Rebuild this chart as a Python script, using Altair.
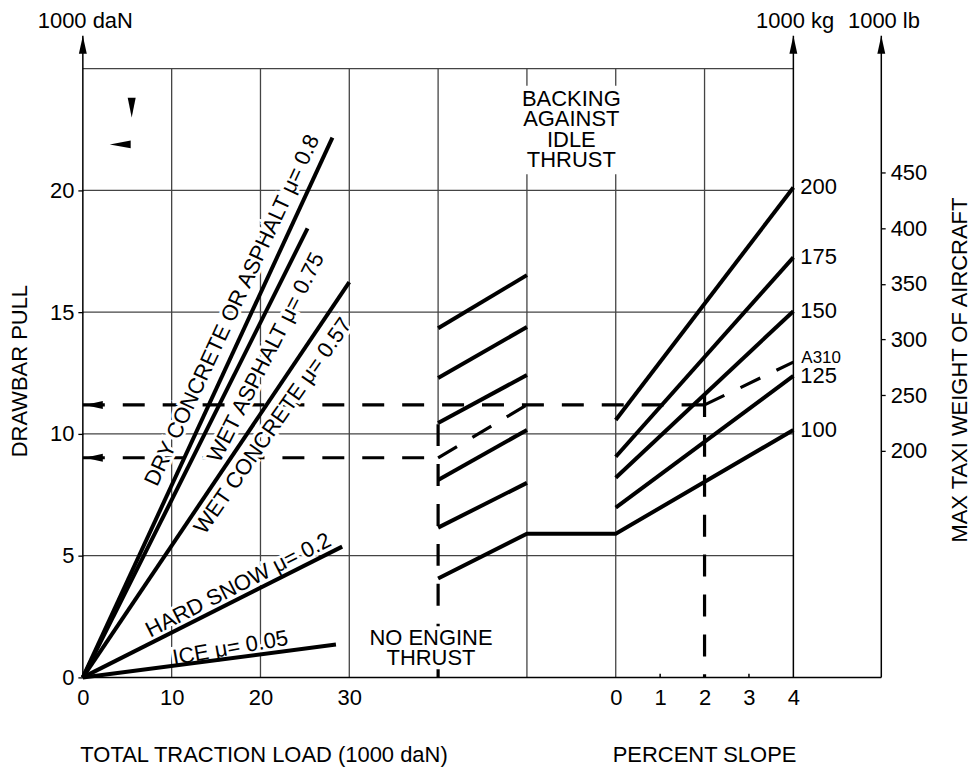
import altair as alt
import pandas as pd

FONT = "Liberation Sans"
FS = 22

# ---------------- data ----------------
# Left panel: total traction load (1000 daN) vs drawbar pull (1000 daN)
surface_labels = ["DRY CONCRETE OR ASPHALT μ= 0.8", "WET ASPHALT μ= 0.75",
                  "WET CONCRETE μ= 0.57", "HARD SNOW μ= 0.2", "ICE μ= 0.05"]
surface_end_load = [28.1, 25.3, 30.0, 29.2, 28.5]
surface_end_pull = [22.17, 18.44, 16.23, 5.37, 1.35]
surface_label_x = [16.8, 20.6, 21.4, 17.5, 16.6]
surface_label_y = [15.08, 13.14, 10.33, 3.79, 1.21]
surface_label_angle = [295, 297, 305, 333, 350]

# Middle panel (no engine thrust): pull at left / right edge of the panel
noengine_left = [14.34, 12.30, 10.45, 8.11, 6.15, 4.06]
noengine_right = [16.52, 14.39, 12.42, 10.16, 7.99, 5.90]
idle_thrust_pull = 5.90

# Right panel (percent slope 0..4): max taxi weight lines (1000 kg)
weight_labels = ["200", "175", "150", "125", "100"]
slope0_pull = [10.57, 9.06, 8.20, 6.97, 5.90]
slope4_pull = [20.12, 17.25, 15.04, 12.38, 10.16]

# Worked example (dashed)
ex_pull_noengine = 9.02
ex_pull_total = 11.19
ex_slope = 2
a310_pull_at4 = 12.95
ex_noengine_top = 10.4
ex_slope_top = 11.6

# Axis ticks
pull_ticks = [0, 5, 10, 15, 20]
grid_pull = [5, 10, 15, 20, 25]
load_ticks = [0, 10, 20, 30]
slope_ticks = [0, 1, 2, 3, 4]
lb_ticks = [200, 250, 300, 350, 400, 450]
lb_domain = [-3.4, 543.2]

# panel layout on the shared horizontal scale
PANEL_END = 80
NOENG = (40, 50)
BACK = (50, 60)


def slope_x(p):
    return 60 + 5 * p


LB_AXIS_X = 89.9
ARROW_TOP = 26.35

# ---------------- tables ----------------
rows = []
for name, x1, y1 in zip(surface_labels, surface_end_load, surface_end_pull):
    rows += [dict(s=name, o=0, x=0, y=0), dict(s=name, o=1, x=x1, y=y1)]
for i in range(len(noengine_left) - 1):
    rows += [dict(s=f"ne{i}", o=0, x=NOENG[0], y=noengine_left[i]),
             dict(s=f"ne{i}", o=1, x=NOENG[1], y=noengine_right[i])]
rows += [dict(s="100", o=0, x=NOENG[0], y=noengine_left[-1]),
         dict(s="100", o=1, x=NOENG[1], y=noengine_right[-1]),
         dict(s="100", o=2, x=BACK[1], y=idle_thrust_pull),
         dict(s="100", o=3, x=slope_x(4), y=slope4_pull[-1])]
for w, a, b in zip(weight_labels[:-1], slope0_pull[:-1], slope4_pull[:-1]):
    rows += [dict(s=w, o=0, x=slope_x(0), y=a), dict(s=w, o=1, x=slope_x(4), y=b)]
solid = pd.DataFrame(rows)

dashed = pd.DataFrame([
    dict(x=0, x2=slope_x(ex_slope), y=ex_pull_total, y2=ex_pull_total),
    dict(x=slope_x(ex_slope), x2=slope_x(4), y=ex_pull_total, y2=a310_pull_at4),
    dict(x=slope_x(ex_slope), x2=slope_x(ex_slope), y=ex_slope_top, y2=0),
    dict(x=0, x2=NOENG[0], y=ex_pull_noengine, y2=ex_pull_noengine),
    dict(x=NOENG[0], x2=NOENG[1], y=ex_pull_noengine, y2=ex_pull_total),
    dict(x=NOENG[0], x2=NOENG[0], y=ex_noengine_top, y2=0),
])

hgrid = pd.DataFrame({"y": grid_pull, "x": 0, "x2": PANEL_END})
vgrid = pd.DataFrame({"x": [10, 20, 30, 40, 50, 60, 70],
                      "y": [0, 0, 0, ex_noengine_top, 0, 0, ex_slope_top],
                      "y2": 25})
axis_lines = pd.DataFrame([
    dict(x=0, x2=0, y=0, y2=ARROW_TOP),
    dict(x=PANEL_END, x2=PANEL_END, y=0, y2=ARROW_TOP),
    dict(x=LB_AXIS_X, x2=LB_AXIS_X, y=0, y2=ARROW_TOP),
    dict(x=0, x2=LB_AXIS_X, y=0, y2=0),
    dict(x=slope_x(1), x2=slope_x(1), y=0, y2=0.15),
    dict(x=slope_x(3), x2=slope_x(3), y=0, y2=0.15),
])

up_arrows = pd.DataFrame({"x": [0, PANEL_END, LB_AXIS_X], "y": 25.98})
left_arrows = pd.DataFrame({"x": [1.24, 1.24], "y": [ex_pull_total, ex_pull_noengine]})
mark_down = pd.DataFrame({"x": [5.5], "y": [23.4]})
mark_left = pd.DataFrame({"x": [4.21], "y": [21.89]})

surface_text = pd.DataFrame({"x": surface_label_x, "y": surface_label_y,
                             "t": surface_labels, "a": surface_label_angle})
weight_text = pd.DataFrame({"x": slope_x(4), "y": slope4_pull, "t": weight_labels})
a310_text = pd.DataFrame({"x": [slope_x(4)], "y": [a310_pull_at4], "t": ["A310"]})

box_rects = pd.DataFrame([
    dict(x=BACK[0] - 0.6, x2=BACK[1] + 0.6, y=20.66, y2=24.3),
    dict(x=NOENG[0] - 1.6, x2=NOENG[0] + 1.6, y=0.33, y2=2.1),
])
# y = position of the first text line
box_text = pd.DataFrame({"x": [55, 39.2], "y": [23.77, 1.62],
                         "t": ["BACKING\nAGAINST\nIDLE\nTHRUST", "NO ENGINE\nTHRUST"]})

plain_text = pd.DataFrame({
    "x": [0.28, 80.2, 90.2, 20.4, 70],
    "y": [26.97, 26.97, 26.97, -3.2, -3.2],
    "t": ["1000 daN", "1000 kg", "1000 lb", "TOTAL TRACTION LOAD (1000 daN)", "PERCENT SLOPE"],
})
vertical_text = pd.DataFrame({"x": [-7.02, 98.8], "y": [12.58, 12.62],
                              "t": ["DRAWBAR PULL", "MAX TAXI WEIGHT OF AIRCRAFT"]})

# ---------------- scales / helpers ----------------
xs = alt.Scale(domain=[0, PANEL_END], nice=False, zero=False)
ys = alt.Scale(domain=[0, 25], nice=False, zero=False)


def X(f="x"):
    return alt.X(f"{f}:Q", scale=xs, title=None)


def Y(f="y"):
    return alt.Y(f"{f}:Q", scale=ys, title=None)


x_axis = alt.Axis(values=load_ticks + [slope_x(p) for p in slope_ticks],
                  labelExpr="datum.value <= 30 ? datum.value : (datum.value - 60) / 5",
                  domain=False, ticks=False, tickSize=0, labelPadding=10,
                  title=None, grid=False, labelFlush=False, labelOverlap=False)
y_axis = alt.Axis(values=pull_ticks, domain=False, ticks=True, tickSize=5,
                  tickColor="black", tickWidth=1.3, labelPadding=4, title=None,
                  grid=False, format="d", labelOverlap=False)

grid_h = alt.Chart(hgrid).mark_rule(color="#444", strokeWidth=1.3).encode(
    x=alt.X("x:Q", scale=xs, axis=x_axis, title=None), x2="x2:Q",
    y=alt.Y("y:Q", scale=ys, axis=y_axis, title=None))
grid_v = alt.Chart(vgrid).mark_rule(color="#444", strokeWidth=1.3).encode(
    x=X(), y=Y(), y2="y2:Q")

dash_layer = alt.Chart(dashed).mark_rule(color="black", strokeWidth=3.2,
                                         strokeDash=[22, 18]).encode(
    x=X(), x2="x2:Q", y=Y(), y2="y2:Q")

halo = alt.Chart(surface_text).mark_text(font=FONT, fontSize=FS, stroke="white",
                                         strokeWidth=6, fill="white",
                                         align="center", baseline="middle").encode(
    x=X(), y=Y(), text="t:N", angle=alt.Angle("a:Q", scale=None))

rects = alt.Chart(box_rects).mark_rect(color="white").encode(
    x=X(), x2="x2:Q", y=Y(), y2="y2:Q")

ax_lines = alt.Chart(axis_lines).mark_rule(color="black", strokeWidth=1.5).encode(
    x=X(), x2="x2:Q", y=Y(), y2="y2:Q")

lines = alt.Chart(solid).mark_line(color="black", strokeWidth=4, strokeJoin="miter").encode(
    x=X(), y=Y(), detail="s:N", order="o:Q")

arrow_up = alt.Chart(up_arrows).mark_point(
    shape="M0,-1L0.44,1L-0.44,1Z", size=324, filled=True, color="black", opacity=1).encode(x=X(), y=Y())
arrow_left = alt.Chart(left_arrows).mark_point(
    shape="M-1,0L1,-0.44L1,0.44Z", size=324, filled=True, color="black", opacity=1).encode(x=X(), y=Y())
reg_down = alt.Chart(mark_down).mark_point(
    shape="M0,1L-0.4,-1L0.4,-1Z", size=400, filled=True, color="black", opacity=1).encode(x=X(), y=Y())
reg_left = alt.Chart(mark_left).mark_point(
    shape="M-1,0L1,-0.38L1,0.38Z", size=441, filled=True, color="black", opacity=1).encode(x=X(), y=Y())

surf_txt = alt.Chart(surface_text).mark_text(font=FONT, fontSize=FS, color="black",
                                             align="center", baseline="middle").encode(
    x=X(), y=Y(), text="t:N", angle=alt.Angle("a:Q", scale=None))
w_txt = alt.Chart(weight_text).mark_text(font=FONT, fontSize=FS, color="black",
                                         align="left", baseline="middle", dx=7).encode(
    x=X(), y=Y(), text="t:N")
a_txt = alt.Chart(a310_text).mark_text(font=FONT, fontSize=17, color="black",
                                       align="left", baseline="middle", dx=8, dy=-4).encode(
    x=X(), y=Y(), text="t:N")
b_txt = alt.Chart(box_text).mark_text(font=FONT, fontSize=FS, color="black", lineBreak="\n",
                                      lineHeight=20.5, align="center", baseline="middle").encode(
    x=X(), y=Y(), text="t:N")
p_txt = alt.Chart(plain_text).mark_text(font=FONT, fontSize=FS, color="black",
                                        align="center", baseline="middle").encode(
    x=X(), y=Y(), text="t:N")
v_txt = alt.Chart(vertical_text).mark_text(font=FONT, fontSize=FS, color="black", angle=270,
                                           align="center", baseline="middle").encode(
    x=X(), y=Y(), text="t:N")

main = alt.layer(grid_h, grid_v, dash_layer, halo, rects, ax_lines, lines,
                 arrow_up, arrow_left, reg_down, reg_left,
                 surf_txt, w_txt, a_txt, b_txt, p_txt, v_txt)

lb_layer = alt.Chart(pd.DataFrame({"lb": lb_domain})).mark_point(opacity=0).encode(
    x=alt.value(0),
    y=alt.Y("lb:Q", scale=alt.Scale(domain=lb_domain, nice=False, zero=False),
            axis=alt.Axis(orient="right", offset=88, values=lb_ticks, domain=False,
                          tickSize=4, tickWidth=1.3, tickColor="black", labelPadding=5,
                          title=None, grid=False, format="d")))

chart = alt.layer(main, lb_layer).resolve_scale(y="independent").properties(
    width=712, height=610,
    autosize=alt.AutoSizeParams(type="none"),
    padding={"left": 75, "top": 60, "right": 178, "bottom": 92},
    background="white",
).configure_view(stroke=None).configure_axis(
    labelFont=FONT, labelFontSize=FS, labelColor="black")

chart.save("out.html", embed_options={"renderer": "svg", "actions": False})
